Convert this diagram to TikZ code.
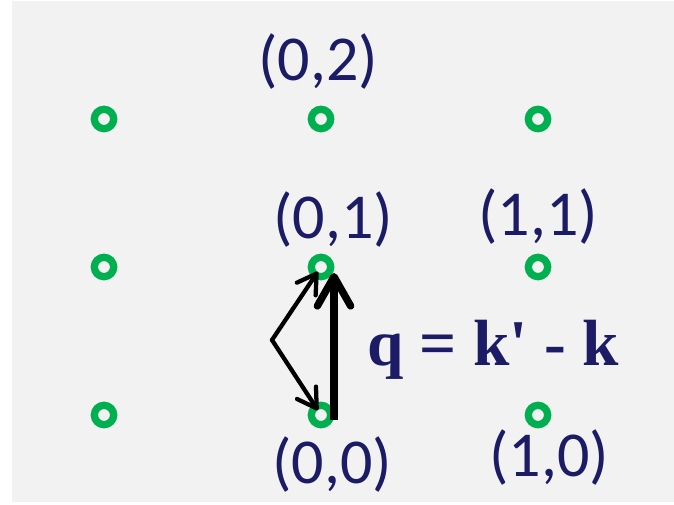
\documentclass[tikz,border=0pt]{standalone}
\usepackage{fontspec}
\setmainfont{Carlito}
\newfontfamily\formulafont{Liberation Serif}
\usetikzlibrary{arrows.meta, calc, positioning}
\definecolor{slidegray}{RGB}{242,242,242}
\definecolor{latticegreen}{RGB}{0,176,80}
\definecolor{labelnavy}{RGB}{27,27,102}
\tikzset{
    site/.style       = {circle, draw = latticegreen, line width = 5.5pt, minimum size = 14.5pt, inner sep = 0pt},
    site label/.style = {text = labelnavy, font = \fontsize{48}{52}\selectfont, inner sep = 0pt},
    formula/.style    = {text = labelnavy, font = \fontsize{49}{53}\formulafont\bfseries, inner sep = 0pt, anchor = base west},
    wavevec/.style    = {draw = black, line width = 3.2pt, line cap = round, line join = round, shorten >= 4.3pt, -{Straight Barb[round, length = 14pt, width = 17pt]}},
    transfer/.style   = {draw = black, line width = 5.5pt, -{Straight Barb[round, length = 22pt, width = 25pt]}}
}

\begin{document}
\begin{tikzpicture}[x=0.75pt, y=-0.75pt]
		\useasboundingbox (0,0) rectangle (674,505);
		\fill[slidegray] (12,1) rectangle (674,502);

		% lattice sites
		\foreach \i/\x in {m/104, 0/321, 1/538}
			\foreach \j/\y in {0/415, 1/267, 2/119}
				\node[site] (p\i\j) at (\x,\y) {};

		\node[site label] (l02) at ($(p02)+(-3,-57)$) {(0,2)};
		\node[site label] (l01) at ($(p01)+(12,-47)$) {(0,1)};
		\node[site label] (l11) at ($(p11)+(0,-50)$) {(1,1)};
		\node[site label] (l00) at ($(p00)+(11,50)$) {(0,0)};
		\node[site label] (l10) at ($(p10)+(11,43)$) {(1,0)};

		\node[formula] (qeq) at (367,366) {q = k\textquotesingle{} - k};

		% incoming and scattered wave vectors
		\coordinate (kbend) at (272,340);
		\draw[wavevec] (kbend) -- (p01.center);
		\draw[wavevec] (kbend) -- (p00.center);

		% momentum transfer
		\coordinate (qtail) at ($(p00)+(13,5)$);
		\coordinate (qhead) at ($(p01)+(13,6)$);
		\draw[transfer] (qtail) -- (qhead);
	\end{tikzpicture}
\end{document}
